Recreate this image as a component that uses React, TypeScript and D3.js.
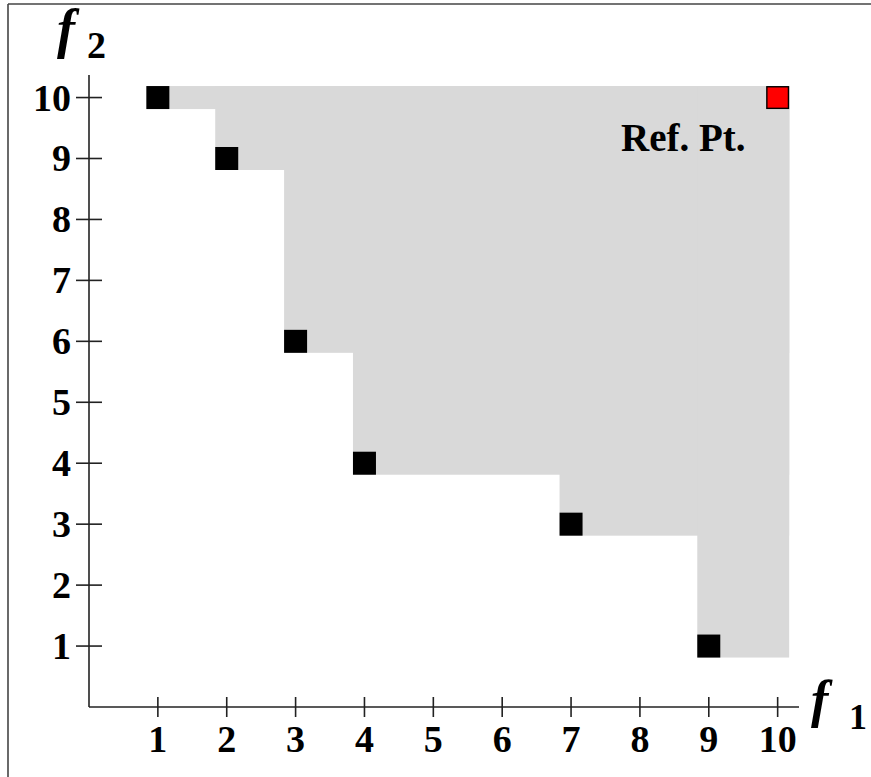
import React from "react";
import * as d3 from "d3";

const xTicks = [1, 2, 3, 4, 5, 6, 7, 8, 9, 10];
const yTicks = [1, 2, 3, 4, 5, 6, 7, 8, 9, 10];
const paretoF1 = [1, 2, 3, 4, 7, 9];
const paretoF2 = [10, 9, 6, 4, 3, 1];
const refPoint = [10, 10];
const refLabel = "Ref. Pt.";

const W = 871;
const H = 777;
const HALF = 11.5;
const SERIF = "'Liberation Serif', 'Times New Roman', serif";

export default function App() {
  const x = d3.scaleLinear().domain([0, 10.31]).range([89, 799]);
  const y = d3.scaleLinear().domain([0, 10.37]).range([707, 75]);
  const rx = x(refPoint[0]);
  const ry = y(refPoint[1]);

  return (
    <svg
      width={W}
      height={H}
      style={{ position: "absolute", left: 0, top: 0, background: "#fff" }}
      fontFamily={SERIF}
    >
      {/* frame (cropped: top and left edges only) */}
      <line x1={8} y1={4} x2={W} y2={4} stroke="#444" strokeWidth={1.6} />
      <line x1={8} y1={4} x2={8} y2={H} stroke="#444" strokeWidth={1.6} />

      {/* dominated region */}
      {paretoF1.map((f1, i) => (
        <rect
          key={"g" + i}
          x={x(f1) - HALF}
          y={ry - HALF}
          width={rx + HALF - (x(f1) - HALF)}
          height={y(paretoF2[i]) + HALF - (ry - HALF)}
          fill="#d9d9d9"
        />
      ))}

      {/* axes */}
      <line x1={x(0)} y1={y(0)} x2={x(10.31)} y2={y(0)} stroke="#222" strokeWidth={1.6} />
      <line x1={x(0)} y1={y(0)} x2={x(0)} y2={y(10.37)} stroke="#222" strokeWidth={1.6} />

      {xTicks.map((t) => (
        <g key={"xt" + t}>
          <line x1={x(t)} x2={x(t)} y1={y(0) - 10} y2={y(0) + 10} stroke="#222" strokeWidth={1.6} />
          <text
            x={x(t)}
            y={751.5}
            textAnchor="middle"
            fontSize={38}
            fontWeight="bold"
            fill="#000"
          >
            {t}
          </text>
        </g>
      ))}
      {yTicks.map((t) => (
        <g key={"yt" + t}>
          <line x1={x(0) - 13} x2={x(0) + 13} y1={y(t)} y2={y(t)} stroke="#222" strokeWidth={1.6} />
          <text
            x={71}
            y={y(t) + 13}
            textAnchor="end"
            fontSize={38}
            fontWeight="bold"
            fill="#000"
          >
            {t}
          </text>
        </g>
      ))}

      {/* axis titles */}
      <text x={57} y={47} fontSize={54} fontWeight="bold" fontStyle="italic" fill="#000">
        f
      </text>
      <text x={87} y={58} fontSize={38} fontWeight="bold" fill="#000">
        2
      </text>
      <text x={811} y={717} fontSize={52} fontWeight="bold" fontStyle="italic" fill="#000">
        f
      </text>
      <text x={849} y={729} fontSize={36} fontWeight="bold" fill="#000">
        1
      </text>

      {/* pareto points */}
      {paretoF1.map((f1, i) => (
        <rect
          key={"p" + i}
          x={x(f1) - HALF}
          y={y(paretoF2[i]) - HALF}
          width={HALF * 2}
          height={HALF * 2}
          fill="#000"
        />
      ))}

      {/* reference point */}
      <rect
        x={rx - HALF + 0.7}
        y={ry - HALF + 0.7}
        width={HALF * 2 - 1.4}
        height={HALF * 2 - 1.4}
        fill="#ff0000"
        stroke="#000"
        strokeWidth={1.4}
      />
      <text x={621} y={151} fontSize={39} fontWeight="bold" fill="#000">
        {refLabel}
      </text>
    </svg>
  );
}
